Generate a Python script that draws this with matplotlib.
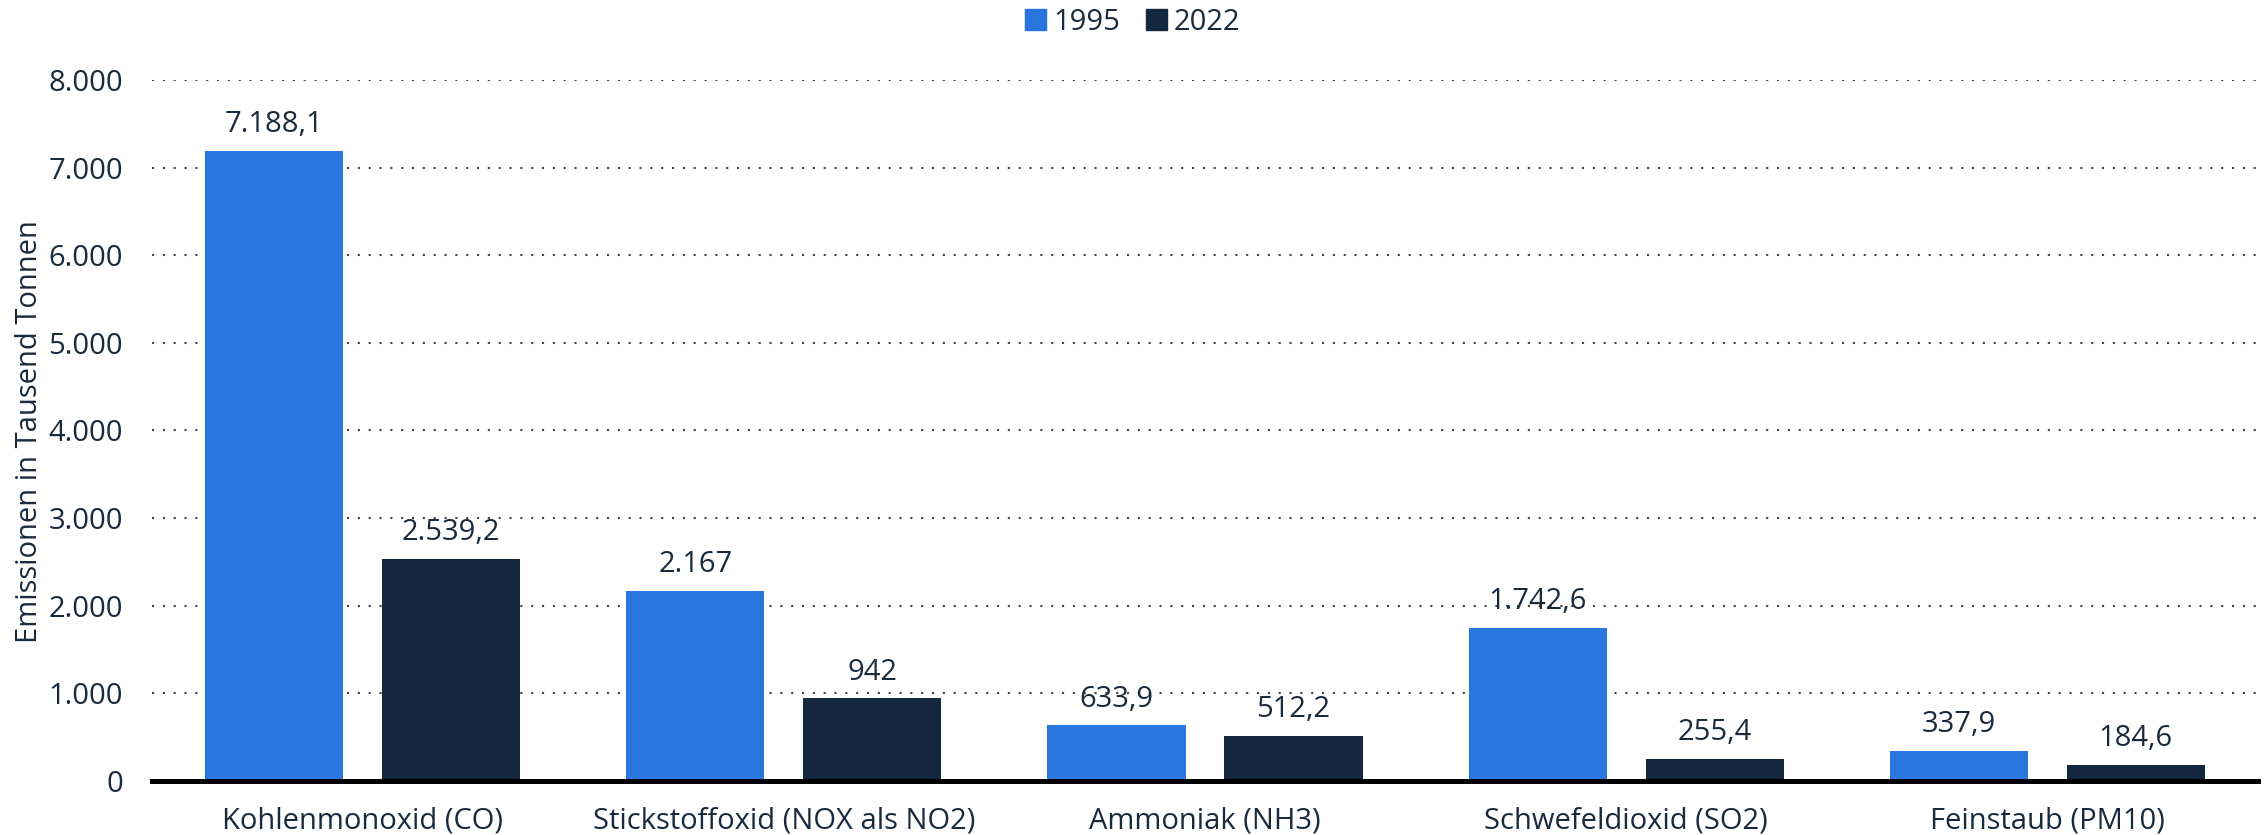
import numpy as np
import matplotlib
matplotlib.use('Agg')
from matplotlib import pyplot as plt
from matplotlib.patches import Patch

# Daten
kategorien = ['Kohlenmonoxid (CO)', 'Stickstoffoxid (NOX als NO2)', 'Ammoniak (NH3)',
              'Schwefeldioxid (SO2)', 'Feinstaub (PM10)']
werte_1995 = [7188.1, 2167, 633.9, 1742.6, 337.9]
werte_2022 = [2539.2, 942, 512.2, 255.4, 184.6]
jahre = ['1995', '2022']
y_ticks = [0, 1000, 2000, 3000, 4000, 5000, 6000, 7000, 8000]

blau = '#2976de'
dunkel = '#13283e'
text_farbe = '#1a2a3d'

plt.rcParams['font.family'] = ['Open Sans', 'DejaVu Sans']
plt.rcParams['font.size'] = 21
plt.rcParams['text.color'] = text_farbe


def de_format(v):
    # deutsches Zahlenformat: Punkt als Tausendertrenner, Komma als Dezimalzeichen
    if float(v).is_integer():
        s = f'{v:,.0f}'
    else:
        s = f'{v:,.1f}'
    return s.replace(',', '#').replace('.', ',').replace('#', '.')


fig = plt.figure(figsize=(22.66, 8.35), dpi=100)
ax = fig.add_axes([152 / 2266, 1 - 781 / 835, (2258 - 152) / 2266, (781 - 80) / 835])

x = np.arange(len(kategorien))
breite = 0.328
versatz = 0.21
b1 = ax.bar(x - versatz, werte_1995, breite, color=blau, zorder=2)
b2 = ax.bar(x + versatz, werte_2022, breite, color=dunkel, zorder=2)

ax.bar_label(b1, labels=[de_format(v) for v in werte_1995], padding=8.6, color=text_farbe, fontsize=21)
ax.bar_label(b2, labels=[de_format(v) for v in werte_2022], padding=8.6, color=text_farbe, fontsize=21)

ax.set_xlim(-0.5, len(kategorien) - 0.5)
ax.set_ylim(0, 8000)
ax.set_xticks(x)
ax.set_xticklabels(kategorien)
ax.set_yticks(y_ticks)
ax.set_yticklabels([de_format(v) for v in y_ticks])
ax.tick_params(axis='x', length=0, pad=18.7, colors=text_farbe)
ax.tick_params(axis='y', length=0, pad=21, colors=text_farbe)

for s in ax.spines.values():
    s.set_visible(False)
ax.set_axisbelow(True)
ax.yaxis.grid(True, color='#444444', linewidth=1.5, linestyle=(0, (1, 4.2)))
ax.axhline(0, color='black', linewidth=3.6, zorder=3, clip_on=False)

fig.text(30 / 2266, 1 - 432 / 835, 'Emissionen in Tausend Tonnen', rotation=90,
         ha='center', va='center', fontsize=21, color=text_farbe)

handles = [Patch(color=blau), Patch(color=dunkel)]
fig.legend(handles, jahre, loc='center', bbox_to_anchor=(0.5, 1 - 22 / 835), ncol=2,
           frameon=False, borderpad=0, handlelength=0.72, handleheight=0.72,
           handletextpad=0.24, columnspacing=0.88, fontsize=21)

plt.savefig('out.png', dpi=100)
